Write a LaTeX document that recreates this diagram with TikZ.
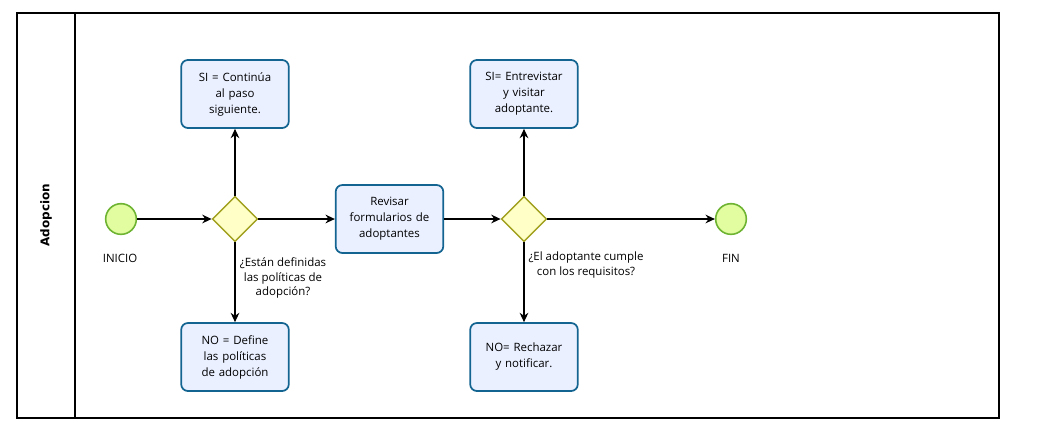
\documentclass[tikz,border=0pt]{standalone}
\usepackage{fontspec}
\setmainfont{Open Sans}
\newfontfamily\lanefont{DejaVu Sans}
\usetikzlibrary{arrows.meta,positioning,shapes.geometric}
\definecolor{evfill}{RGB}{226, 252, 160}
\definecolor{evline}{RGB}{110, 180, 50}
\definecolor{gwfill}{RGB}{255, 255, 200}
\definecolor{gwline}{RGB}{160, 160, 30}
\definecolor{taskfill}{RGB}{234, 240, 255}
\definecolor{taskline}{RGB}{20, 100, 145}

\begin{document}
\begin{tikzpicture}[x=0.75pt, y=-0.75pt, >={Stealth[length=7pt,width=6.5pt]},
	eventnode/.style={circle, draw=evline, fill=evfill, line width=1.2pt, minimum size=23pt, inner sep=0pt},
	gatenode/.style={diamond, aspect=1, draw=gwline, fill=gwfill, line width=1.1pt, minimum size=34pt, inner sep=0pt},
	tasknode/.style={rectangle, rounded corners=5pt, draw=taskline, fill=taskfill, line width=1.3pt, minimum width=76.5pt, minimum height=51pt, text width=74pt, align=center, font=\fontsize{8.6}{12}\selectfont},
	labelnode/.style={align=center, font=\fontsize{8.6}{11}\selectfont, inner sep=0pt},
	flowLine/.style={line width=1.1pt, ->, color=black}
	]
	\useasboundingbox (0,0) rectangle (1049,436);
	% pool and lane
	\draw[line width=0.9pt] (17,13) rectangle (999,418);
	\draw[line width=0.9pt] (75,13) -- (75,418);
	\node[rotate=90, font=\lanefont\bfseries\fontsize{9}{11}\selectfont] (lane) at (46,215) {Adopcion};

	\node[eventnode] (inicio) at (121,219) {};
	\node[labelnode] (inicioL) at (120,258) {INICIO};
	\node[gatenode] (gw1) at (235,219) {};
	\node[tasknode] (si1) at (235,94) {SI = Continúa\\al paso\\siguiente.};
	\node[tasknode] (no1) at (235,357) {NO = Define\\las políticas\\de adopción};
	\node[labelnode] (gw1L) at (283,278) {¿Están definidas\\las políticas de\\adopción?};
	\node[tasknode] (revisar) at (389.5,219) {Revisar\\formularios de\\adoptantes};
	\node[gatenode] (gw2) at (524,219) {};
	\node[tasknode] (si2) at (524,94) {SI= Entrevistar\\y visitar\\adoptante.};
	\node[tasknode] (no2) at (524,357) {NO= Rechazar\\y notificar.};
	\node[labelnode] (gw2L) at (586,265) {¿El adoptante cumple\\con los requisitos?};
	\node[eventnode] (fin) at (731,219) {};
	\node[labelnode] (finL) at (731,258) {FIN};

	\draw[flowLine] (inicio) -- (gw1);
	\draw[flowLine] (gw1.north) -- (si1);
	\draw[flowLine] (gw1.south) -- (no1);
	\draw[flowLine] (gw1.east) -- (revisar);
	\draw[flowLine] (revisar) -- (gw2);
	\draw[flowLine] (gw2.north) -- (si2);
	\draw[flowLine] (gw2.south) -- (no2);
	\draw[flowLine] (gw2.east) -- (fin);
\end{tikzpicture}
\end{document}
